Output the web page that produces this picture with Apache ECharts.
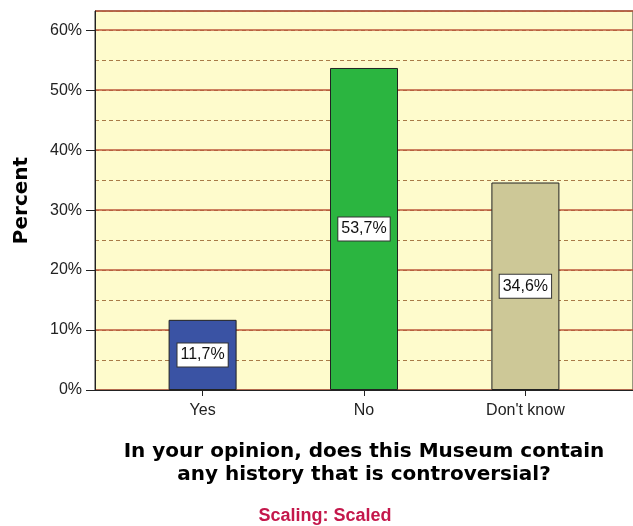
<!DOCTYPE html>
<html>
<head>
<meta charset="utf-8">
<script src="https://cdn.jsdelivr.net/npm/echarts@6/dist/echarts.min.js"></script>
<style>html,body{margin:0;padding:0;background:#fff;}#c{width:633px;height:526px;}</style>
</head>
<body>
<div id="c"></div>
<script>
var categories = ['Yes', 'No', "Don't know"];
var percents = [11.7, 53.7, 34.6];
var barColors = ['#3a53a4', '#2bb540', '#cdc897'];
var yTickLabels = ['0%', '10%', '20%', '30%', '40%', '50%', '60%'];

var chart = echarts.init(document.getElementById('c'));
var font = '"Liberation Sans", Arial, sans-serif';
var boldFont = '"DejaVu Sans", Verdana, sans-serif';
var data = percents.map(function (v, i) {
  return { value: [i, v], itemStyle: { color: barColors[i] } };
});
chart.setOption({
  animation: false,
  backgroundColor: '#ffffff',
  textStyle: { fontFamily: font },
  grid: {
    left: 95, right: -7, top: 11, bottom: 136,
    show: true, backgroundColor: '#fefbcc', borderColor: '#333', borderWidth: 1
  },
  title: {
    text: 'Scaling: Scaled',
    left: 320, top: 502, textAlign: 'center',
    textStyle: { color: '#c4174b', fontSize: 18, fontWeight: 'bold', fontFamily: font }
  },
  xAxis: {
    type: 'value', min: -2 / 3, max: 8 / 3,
    name: 'In your opinion, does this Museum contain\nany history that is controversial?',
    nameLocation: 'middle', nameGap: 50,
    nameTextStyle: { fontSize: 20, fontWeight: 'bold', color: '#000', lineHeight: 23, fontFamily: boldFont },
    axisLine: { show: true, lineStyle: { color: '#222', width: 1 } },
    axisTick: { show: true, customValues: [0, 1, 2], length: 6, lineStyle: { color: '#222' } },
    axisLabel: {
      customValues: [0, 1, 2], margin: 13, fontSize: 16, color: '#222',
      formatter: function (v) { return categories[Math.round(v)]; }
    },
    splitLine: { show: false }
  },
  yAxis: [{
    type: 'value', min: 0, max: 63.2, interval: 5,
    axisLine: { show: false }, axisTick: { show: false }, axisLabel: { show: false },
    splitLine: { show: true, lineStyle: { color: '#a87a48', type: [4, 3], width: 1 } }
  }, {
    type: 'value', min: 0, max: 63.2, interval: 10, position: 'left',
    name: 'Percent', nameLocation: 'middle', nameGap: 63, nameRotate: 90,
    nameTextStyle: { fontSize: 20, fontWeight: 'bold', color: '#000', fontFamily: boldFont },
    axisLine: { show: true, lineStyle: { color: '#222', width: 1 } },
    axisTick: { show: true, length: 9, lineStyle: { color: '#222' } },
    axisLabel: {
      showMaxLabel: false, margin: 13, fontSize: 16, color: '#222',
      formatter: function (v) { return yTickLabels[Math.round(v / 10)] || ''; }
    },
    splitLine: { show: true, lineStyle: { color: '#bd5a3c', width: 1.5 } }
  }],
  series: [{
    type: 'bar', yAxisIndex: 1, barWidth: 68, data: data,
    itemStyle: { borderColor: '#222', borderWidth: 1 },
    label: {
      show: true, position: 'inside', color: '#111', fontSize: 16,
      backgroundColor: '#fff', borderColor: '#333', borderWidth: 1, padding: [4, 3, 3, 3],
      formatter: function (p) { return p.value[1].toFixed(1).replace('.', ',') + '%'; }
    }
  }]
});
</script>
</body>
</html>
